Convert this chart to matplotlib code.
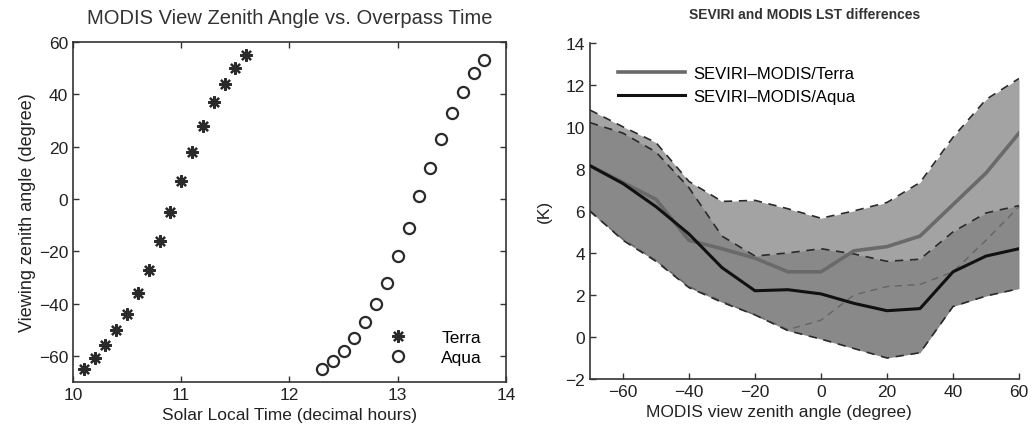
import numpy as np
import matplotlib
matplotlib.use('Agg')
import matplotlib.pyplot as plt

plt.rcParams['font.family'] = ['Liberation Sans', 'DejaVu Sans']

# left panel: overpass time vs view zenith angle
terra_time = [10.1, 10.2, 10.3, 10.4, 10.5, 10.6, 10.7, 10.8, 10.9, 11.0, 11.1, 11.2, 11.3, 11.4, 11.5, 11.6]
terra_vza = [-65, -61, -56, -50, -44, -36, -27, -16, -5, 7, 18, 28, 37, 44, 50, 55]
aqua_time = [12.3, 12.4, 12.5, 12.6, 12.7, 12.8, 12.9, 13.0, 13.1, 13.2, 13.3, 13.4, 13.5, 13.6, 13.7, 13.8]
aqua_vza = [-65, -62, -58, -53, -47, -40, -32, -22, -11, 1, 12, 23, 33, 41, 48, 53]

# right panel: LST differences vs view zenith angle
vza = [-70, -60, -50, -40, -30, -20, -10, 0, 10, 20, 30, 40, 50, 60]
terra_mean = [8.15, 7.35, 6.55, 4.6, 4.2, 3.75, 3.1, 3.1, 4.1, 4.3, 4.8, 6.3, 7.8, 9.7]
terra_upper = [10.8, 10.0, 9.25, 7.4, 6.45, 6.5, 6.1, 5.65, 6.0, 6.4, 7.35, 9.5, 11.3, 12.3]
terra_lower = [5.95, 4.65, 3.65, 2.4, 1.7, 1.05, 0.35, 0.8, 2.0, 2.4, 2.5, 3.1, 4.6, 6.2]
aqua_mean = [8.15, 7.3, 6.2, 4.9, 3.3, 2.2, 2.25, 2.05, 1.6, 1.25, 1.35, 3.1, 3.85, 4.2]
aqua_upper = [10.2, 9.7, 8.8, 7.1, 4.8, 3.85, 4.0, 4.2, 3.95, 3.6, 3.7, 5.0, 5.9, 6.25]
aqua_lower = [6.0, 4.6, 3.6, 2.35, 1.65, 1.05, 0.3, -0.1, -0.55, -1.0, -0.75, 1.45, 1.95, 2.3]

fig = plt.figure(figsize=(10.32, 4.35), dpi=100)

# --- left ---
ax1 = fig.add_axes([0.0707, 0.1195, 0.4196, 0.7816])
ax1.plot(terra_time, terra_vza, linestyle='none', marker=(8, 2, 0), markersize=9,
         mew=1.6, color='#2a2a2a', label='Terra')
ax1.plot(aqua_time, aqua_vza, linestyle='none', marker='o', markersize=8,
         mfc='none', mew=1.6, color='#2a2a2a', label='Aqua')
ax1.set_xlim(10, 14)
ax1.set_ylim(-70, 60)
ax1.set_xticks([10, 11, 12, 13, 14])
ax1.set_yticks([-60, -40, -20, 0, 20, 40, 60])
ax1.tick_params(direction='in', top=True, right=True, labelsize=12.5, length=4, width=1,
                colors='#333333', labelcolor='#222222')
for s in ax1.spines.values():
    s.set_color('#333333')
    s.set_linewidth(1.2)
ax1.set_title('MODIS View Zenith Angle vs. Overpass Time', fontsize=14.5, color='#333333', pad=14)
ax1.set_xlabel('Solar Local Time (decimal hours)', fontsize=12.5, color='#222222', labelpad=4)
ax1.set_ylabel('Viewing zenith angle (degree)', fontsize=13, color='#222222', labelpad=2)
ax1.legend(loc='lower right', frameon=False, fontsize=12.5, handlelength=1.0,
           handletextpad=2.0, labelspacing=0.25, borderaxespad=0.6,
           bbox_to_anchor=(0.985, 0.0))

# --- right ---
ax2 = fig.add_axes([0.5717, 0.1264, 0.4157, 0.773])
ax2.fill_between(vza, terra_lower, terra_upper, color='#a3a3a3', lw=0, zorder=1)
ax2.plot(vza, terra_lower, ls=(0, (5, 4)), color='#555555', lw=1.0, zorder=4, alpha=0.7)
ax2.fill_between(vza, aqua_lower, aqua_upper, color='#898989', lw=0, zorder=2)
ax2.plot(vza, terra_upper, ls=(0, (5, 4)), color='#2a2a2a', lw=1.2, zorder=4)
ax2.plot(vza, aqua_upper, ls=(0, (5, 4)), color='#2a2a2a', lw=1.2, zorder=4)
ax2.plot(vza, aqua_lower, ls=(0, (5, 4)), color='#2a2a2a', lw=1.2, zorder=4)
ax2.plot(vza, terra_mean, color='#6a6a6a', lw=2.6, zorder=5, label='SEVIRI\u2013MODIS/Terra')
ax2.plot(vza, aqua_mean, color='#111111', lw=2.2, zorder=6, label='SEVIRI\u2013MODIS/Aqua')
ax2.set_xlim(-70, 60)
ax2.set_ylim(-2, 14)
ax2.set_xticks([-60, -40, -20, 0, 20, 40, 60])
ax2.set_yticks(np.arange(-2, 15, 2))
ax2.tick_params(direction='in', labelsize=12.5, length=4, width=1,
                colors='#333333', labelcolor='#222222')
ax2.spines['top'].set_visible(False)
ax2.spines['right'].set_visible(False)
for s in ['left', 'bottom']:
    ax2.spines[s].set_color('#333333')
    ax2.spines[s].set_linewidth(1.2)
ax2.set_title('SEVIRI and MODIS LST differences', fontsize=10, fontweight='bold',
              color='#333333', pad=18)
ax2.set_xlabel('MODIS view zenith angle (degree)', fontsize=12.5, color='#222222', labelpad=4)
ax2.xaxis.set_label_coords(0.44, -0.075)
ax2.set_ylabel('(K)', fontsize=12.5, color='#222222', labelpad=10)
ax2.legend(loc='upper left', frameon=False, fontsize=12, handlelength=4.0,
           handletextpad=0.5, labelspacing=0.45, borderaxespad=0.0,
           bbox_to_anchor=(0.05, 0.95))

fig.savefig('out.png', dpi=100)
